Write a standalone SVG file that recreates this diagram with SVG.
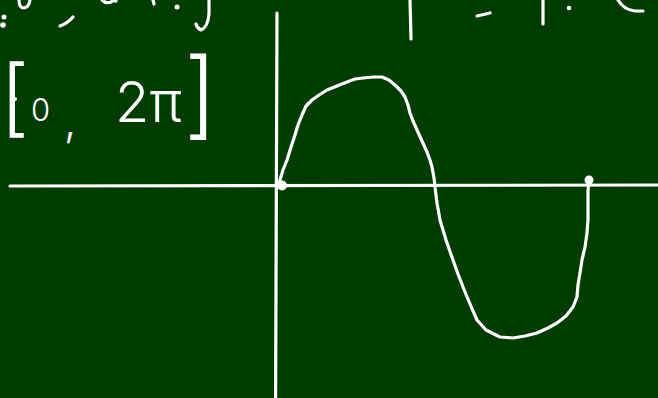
<svg xmlns="http://www.w3.org/2000/svg" width="658" height="398" viewBox="0 0 658 398">
<style>
.ln{fill:none;stroke:#ffffff;stroke-width:3.2;stroke-linecap:round;stroke-linejoin:round}
.dot{fill:#ffffff}
.hw{fill:#ffffff;font-family:Inter,"Liberation Sans",sans-serif;font-weight:300}
</style>
<rect x="0" y="0" width="658" height="398" fill="#003c00"/>
<g id="axes">
<path class="ln" d="M10 186 L658 185"/>
<path class="ln" d="M277 13 L275.6 398"/>
</g>
<g id="sine-curve">
<path class="ln" d="M279 183 L283 170 L287 160 L291 147 L295 135 L298 125 L302 115 L306 106 L312 100 L319 95 L327 90 L337 86 L347 82 L355 79 L363 78 L373 77 L382 77 L389 80 L395 85 L401 91 L405 97 L408 105 L410 113 L413 121 L417 130 L422 141 L427 152 L430 160 L432 167 L434 178 L435 187 L437 203 L440 220 L446 240 L453 260 L458 274 L463 287 L470 304 L477 320 L486 330 L500 337 L513 338 L525 336 L537 333 L548 328 L557 323 L566 316 L573 307 L575 302 L577 297 L578 285 L580 273 L582 260 L585 247 L587 233 L588 220 L588 205 L588 190 L589 180"/>
<circle class="dot" cx="282" cy="185.5" r="5"/>
<circle class="dot" cx="589" cy="180" r="4.5"/>
</g>
<g id="interval-label">
<text class="hw" x="0" y="126" font-size="84">[</text>
<circle class="dot" cx="15" cy="99" r="2"/>
<text class="hw" x="31" y="121" font-size="31">0</text>
<text class="hw" x="64" y="136" font-size="44">,</text>
<text class="hw" x="115" y="122" font-size="56">2π</text>
<text class="hw" x="184" y="127" font-size="95">]</text>
</g>
<g id="top-marks">
<path class="ln" d="M19 0 Q19 8 24 8 Q29 7 30 0"/>
<circle class="dot" cx="4" cy="17" r="2.5"/>
<circle class="dot" cx="3" cy="25" r="2.8"/>
<path class="ln" d="M60 26 Q68 23 73 17"/>
<path class="ln" d="M102 0 Q106 4 111 2 Q114 0 116 1"/>
<path class="ln" d="M153 0 L154 4"/>
<circle class="dot" cx="177" cy="7" r="2.5"/>
<path class="ln" d="M209 0 L209 14 Q208 27 201 30 Q197 28 196 24"/>
<path class="ln" d="M410 0 L411 39"/>
<path class="ln" d="M477 16 L490 13"/>
<path class="ln" d="M543 0 L543 24"/>
<circle class="dot" cx="569" cy="8" r="2.3"/>
<path class="ln" d="M618 0 Q624 10 635 11 L643 11"/>
</g>
</svg>
